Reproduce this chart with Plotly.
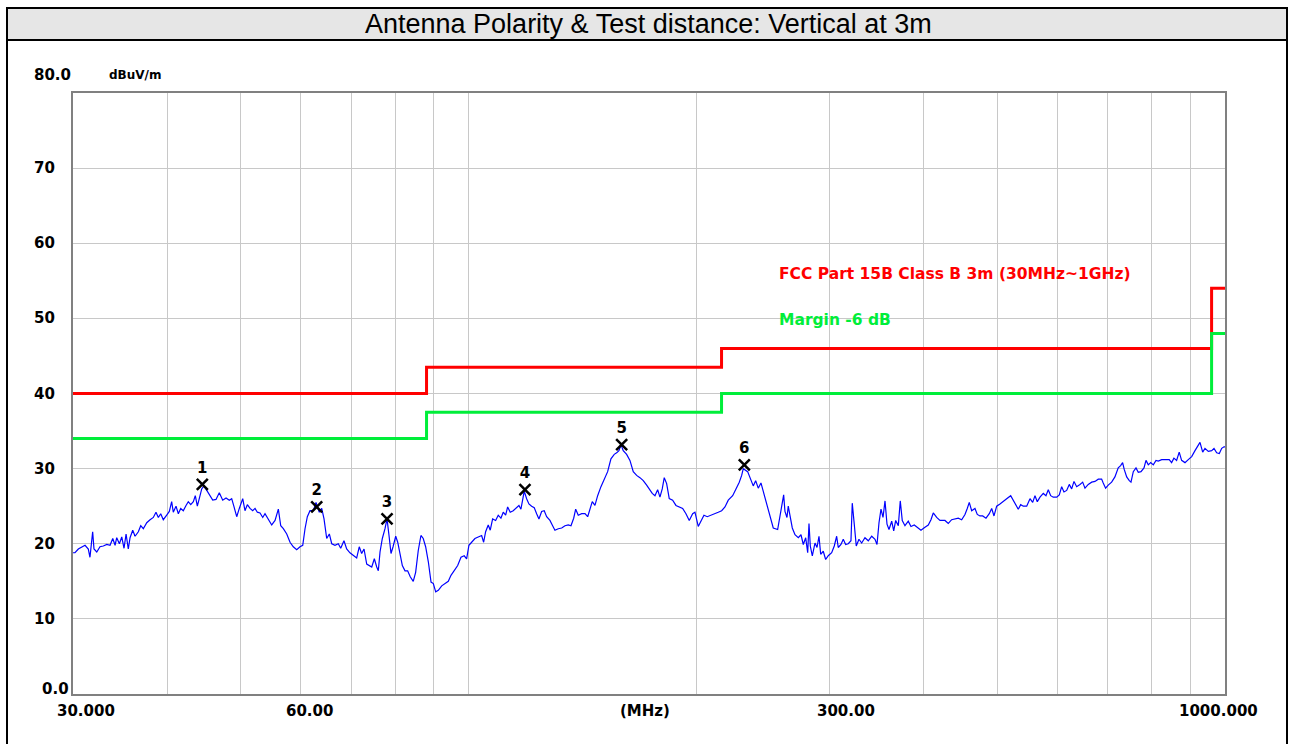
import math
import plotly.graph_objects as go

# ---------------- data ----------------
freq_mhz = [
    30.00, 30.18, 30.49, 30.80, 31.12, 31.43, 31.59, 31.85, 31.98, 32.25, 32.57, 32.90, 33.25, 33.58,
    33.86, 34.10, 34.27, 34.55, 34.80, 35.04, 35.26, 35.50, 35.69, 35.98, 36.24, 36.60, 36.87, 37.16,
    37.55, 37.93, 38.31, 38.62, 38.90, 39.18, 39.49, 39.90, 40.22, 40.51, 40.71, 41.05, 41.34, 41.64,
    41.97, 42.32, 42.61, 42.93, 43.27, 43.53, 43.80, 44.06, 44.39, 44.70, 45.07, 45.43, 45.90, 46.36,
    46.83, 47.32, 47.80, 48.28, 48.63, 48.98, 49.38, 49.77, 50.29, 50.64, 51.00, 51.42, 51.84, 52.21,
    52.58, 53.01, 53.45, 53.82, 54.37, 54.93, 55.49, 56.05, 56.46, 56.91, 57.50, 58.08, 58.66, 59.27,
    59.87, 60.37, 60.79, 61.22, 61.72, 62.35, 62.86, 63.49, 63.96, 64.41, 64.94, 65.46, 65.94, 66.60,
    67.27, 67.77, 68.44, 69.01, 69.70, 70.41, 71.14, 71.70, 72.23, 72.75, 73.35, 74.48, 75.07, 75.62,
    75.99, 76.38, 76.92, 77.55, 78.03, 78.50, 78.98, 79.47, 80.12, 80.61, 81.18, 81.75, 82.42, 83.08,
    83.74, 84.51, 85.13, 85.81, 86.51, 87.12, 87.76, 88.48, 89.21, 89.84, 90.49, 91.21, 92.16, 93.08,
    94.02, 94.80, 95.76, 96.75, 97.73, 98.70, 99.42, 100.12, 100.95, 101.97, 103.00, 104.07, 104.70,
    105.34, 106.18, 106.83, 107.61, 108.60, 109.46, 110.36, 111.14, 111.96, 112.64, 113.53, 114.57,
    115.77, 116.58, 117.29, 117.76, 118.48, 119.34, 120.18, 121.17, 122.14, 123.03, 123.90, 124.92,
    125.91, 126.84, 128.12, 129.02, 130.08, 131.41, 132.78, 134.12, 135.47, 136.59, 137.72, 138.56,
    139.66, 141.11, 142.54, 143.71, 144.72, 145.73, 146.93, 148.14, 149.64, 151.15, 152.72, 154.26,
    155.82, 156.96, 158.06, 159.03, 160.15, 161.81, 163.44, 165.10, 166.81, 168.50, 170.20, 171.97,
    173.70, 174.92, 176.37, 177.82, 179.07, 180.33, 181.43, 182.76, 184.21, 186.13, 188.01, 189.91,
    191.89, 193.83, 195.78, 197.82, 199.21, 201.22, 203.31, 204.74, 206.81, 209.60, 211.71, 213.85,
    216.08, 218.27, 220.47, 223.44, 225.70, 227.98, 229.65, 230.76, 233.87, 236.23, 237.89, 239.64,
    241.54, 243.53, 245.24, 247.80, 250.30, 252.83, 256.24, 258.04, 259.38, 260.96, 262.00, 263.60,
    264.64, 266.02, 267.91, 270.12, 272.85, 275.10, 277.03, 279.06, 280.77, 281.88, 283.00, 284.73,
    287.08, 288.83, 290.59, 292.10, 294.39, 296.55, 298.90, 302.02, 304.42, 306.65, 308.14, 310.69,
    312.87, 315.16, 317.67, 320.29, 321.56, 323.53, 325.50, 328.19, 330.90, 334.23, 337.65, 341.17,
    344.61, 346.71, 348.83, 350.96, 353.10, 355.26, 357.43, 359.61, 362.58, 364.79, 367.02, 369.94,
    372.16, 374.43, 377.52, 381.33, 384.48, 388.36, 392.40, 396.36, 401.22, 405.27, 408.61, 411.48,
    415.77, 419.96, 426.40, 430.70, 435.18, 439.57, 444.02, 448.63, 453.16, 456.35, 459.13, 462.50,
    467.17, 470.45, 474.33, 478.27, 483.10, 487.97, 491.55, 495.00, 499.09, 504.13, 509.22, 514.51,
    520.81, 524.95, 529.28, 533.00, 536.93, 541.20, 546.83, 552.35, 556.91, 560.82, 564.76, 569.42,
    575.17, 579.89, 583.96, 588.25, 592.92, 599.09, 603.85, 608.27, 612.55, 617.60, 622.51, 627.07,
    631.48, 636.69, 643.11, 648.42, 652.98, 659.57, 666.43, 673.15, 679.95, 686.91, 690.27, 695.32,
    700.85, 708.14, 715.30, 722.52, 727.81, 732.26, 735.83, 741.38, 747.26, 751.14, 756.42, 762.66,
    768.02, 774.36, 781.46, 786.24, 791.76, 797.57, 803.90, 810.54, 816.23, 824.72, 835.58, 843.81,
    850.00, 855.98, 863.04, 869.89, 876.27, 885.33, 894.27, 903.56, 912.69, 919.10, 926.69, 934.34,
    940.90, 950.44, 960.33, 967.07, 975.06, 982.80, 990.00, 996.96, 1000.00,
]

level_dbuv = [
    18.8, 18.8, 19.3, 19.5, 19.8, 19.3, 18.2, 21.6, 19.3, 18.9, 19.6, 19.7, 19.9, 19.8,
    20.7, 19.8, 20.8, 20.0, 20.9, 19.4, 21.3, 19.3, 20.8, 21.8, 21.0, 21.6, 22.4, 22.0,
    22.8, 23.2, 23.5, 24.2, 23.5, 24.0, 23.2, 23.8, 24.3, 25.6, 24.2, 25.0, 24.0, 24.7,
    24.4, 25.1, 25.6, 25.2, 25.6, 26.4, 25.0, 26.0, 27.3, 27.7, 27.1, 26.7, 25.8, 25.9,
    26.8, 25.8, 26.1, 25.8, 26.0, 24.9, 23.6, 24.7, 26.0, 24.4, 25.2, 24.7, 24.4, 24.7,
    24.2, 24.1, 23.5, 24.0, 23.3, 22.5, 23.1, 24.6, 22.4, 22.0, 21.3, 20.2, 19.6, 19.2,
    19.6, 19.8, 22.0, 23.6, 24.4, 24.4, 25.5, 24.2, 24.7, 23.3, 20.7, 21.3, 20.0, 19.8,
    20.0, 19.4, 20.4, 19.3, 18.8, 18.5, 18.1, 19.6, 18.7, 19.3, 17.3, 16.9, 18.0, 16.9,
    16.4, 18.9, 20.7, 22.0, 23.3, 21.1, 18.7, 19.6, 21.0, 20.2, 18.4, 17.1, 16.4, 16.4,
    15.6, 15.0, 16.2, 19.1, 21.1, 20.7, 19.6, 17.6, 14.9, 14.7, 13.6, 13.8, 14.4, 14.7,
    15.0, 15.8, 16.4, 17.1, 18.2, 18.4, 18.0, 19.8, 20.2, 20.7, 20.9, 21.1, 20.2,
    21.6, 22.5, 21.8, 23.3, 23.1, 23.8, 23.4, 24.2, 23.8, 24.9, 24.2, 24.4,
    24.9, 25.1, 24.6, 25.6, 27.0, 26.0, 25.3, 25.0, 24.8, 24.0, 23.3, 24.3,
    24.4, 23.6, 23.1, 22.5, 21.8, 22.0, 22.1, 22.4, 22.5, 22.4, 23.4, 24.6,
    23.8, 24.0, 24.0, 23.6, 24.8, 25.6, 25.1, 26.4, 27.6, 28.7, 29.6, 31.3,
    31.9, 32.1, 32.4, 33.2, 32.4, 31.9, 31.1, 29.6, 29.1, 28.8, 28.4, 27.8,
    27.2, 26.7, 26.4, 27.2, 26.2, 27.3, 28.8, 28.0, 26.0, 25.8, 25.1, 24.9,
    24.7, 24.0, 23.1, 24.0, 24.2, 22.3, 23.3, 23.8, 23.6, 23.8, 24.0, 24.2,
    24.4, 24.9, 25.8, 26.4, 27.3, 28.2, 29.1, 30.0, 29.6, 28.5, 27.7, 28.4,
    27.4, 28.1, 27.0, 25.2, 23.5, 22.1, 21.9, 23.5, 24.8, 26.5, 24.3, 23.5,
    25.0, 23.7, 22.1, 21.2, 20.8, 21.2, 19.9, 20.8, 18.8, 22.7, 19.7, 18.4,
    20.1, 19.5, 21.0, 18.6, 19.0, 17.9, 18.4, 18.8, 19.7, 21.0, 19.5, 19.9,
    20.6, 19.9, 20.0, 20.4, 25.4, 22.6, 19.7, 20.6, 20.1, 20.8, 20.4, 21.0,
    20.6, 19.9, 22.8, 24.6, 23.5, 25.7, 22.6, 21.9, 23.0, 21.7, 23.1, 22.4,
    25.7, 23.1, 22.4, 23.0, 22.3, 22.5, 22.1, 21.8, 22.2, 22.5, 23.2, 24.1,
    23.5, 23.1, 23.1, 22.7, 23.2, 23.3, 23.4, 23.2, 23.9, 24.7, 25.5, 24.4,
    24.7, 23.9, 23.7, 23.7, 23.4, 24.0, 24.7, 23.7, 25.0, 25.3, 25.6, 26.0,
    26.4, 25.8, 25.3, 24.6, 25.2, 25.0, 25.0, 26.0, 25.5, 26.4, 25.6, 26.2,
    26.7, 26.4, 27.2, 26.4, 26.2, 26.2, 26.5, 27.6, 26.9, 27.1, 27.9, 27.3,
    28.3, 27.6, 27.9, 28.2, 27.4, 27.9, 28.2, 28.3, 28.6, 28.6, 28.1, 27.4,
    27.8, 28.2, 28.9, 30.1, 30.4, 30.8, 29.9, 28.9, 28.4, 28.2, 29.6, 30.1,
    29.5, 29.6, 30.1, 31.1, 30.5, 30.8, 30.5, 31.1, 31.0, 31.2, 31.2, 31.2,
    30.8, 31.4, 31.1, 32.2, 31.1, 30.8, 31.2, 31.6, 32.4, 32.9, 33.5, 32.2,
    32.7, 32.3, 32.4, 32.7, 32.1, 32.0, 32.7, 32.9, 32.9,
]

limit_freq = [30, 88, 216, 960, 1000]
limit_level = [40.0, 43.5, 46.0, 54.0, 54.0]
margin_db = -6.0
margin_level = [v + margin_db for v in limit_level]

marker_freq = [44.47, 62.99, 78.03, 118.73, 159.37, 231.5]
marker_level = [27.9, 24.9, 23.3, 27.2, 33.2, 30.5]
marker_labels = ["1", "2", "3", "4", "5", "6"]

grid_freq = [40, 50, 60, 70, 80, 90, 100, 200, 300, 400, 500, 600, 700, 800, 900]
y_ticks = [10, 20, 30, 40, 50, 60, 70]
x_tick_freq = [30, 60, 300, 1000]
x_tick_text = ["30.000", "60.00", "300.00", "1000.000"]

title_text = "Antenna Polarity & Test distance: Vertical at 3m"
limit_name = "FCC Part 15B Class B 3m (30MHz~1GHz)"
margin_name = "Margin -6 dB"
unit_text = "dBuV/m"
x_unit_text = "(MHz)"

# ---------------- layout geometry ----------------
W, H = 1294, 744
L, R, T, B = 73, 69, 93, 50
PW = W - L - R
PH = H - T - B


def px(x):
    return (x - L) / PW


def py(y):
    return (H - B - y) / PH


RED = "#ff0000"
GREEN = "#00ee3a"
BLUE = "#0000ff"
GRID = "#c8c8c8"
LBL_FONT = "DejaVu Sans, Verdana, sans-serif"

fig = go.Figure()

fig.add_trace(go.Scatter(
    x=limit_freq, y=limit_level, mode="lines", line=dict(color=RED, width=3, shape="hv"),
    hoverinfo="skip", showlegend=False))
fig.add_trace(go.Scatter(
    x=limit_freq, y=margin_level, mode="lines", line=dict(color=GREEN, width=3, shape="hv"),
    hoverinfo="skip", showlegend=False))
fig.add_trace(go.Scatter(
    x=freq_mhz, y=level_dbuv, mode="lines", line=dict(color=BLUE, width=1.2),
    showlegend=False))
fig.add_trace(go.Scatter(
    x=marker_freq, y=marker_level, mode="markers+text", text=marker_labels,
    textposition="top center",
    textfont=dict(family=LBL_FONT, size=15, color="black", weight="bold"),
    marker=dict(symbol="x-thin", size=11, color="black", line=dict(color="black", width=2.5)),
    showlegend=False))

annotations = []
# y tick labels
for v in y_ticks:
    annotations.append(dict(x=px(32), xref="paper", y=v, yref="y", text=str(v), showarrow=False,
                            xanchor="left", yanchor="middle",
                            font=dict(family=LBL_FONT, size=15, color="black", weight="bold")))
annotations.append(dict(x=px(32), xref="paper", y=80, yref="y", yshift=18, text="80.0",
                        showarrow=False, xanchor="left", yanchor="middle",
                        font=dict(family=LBL_FONT, size=15, color="black", weight="bold")))
annotations.append(dict(x=px(40), xref="paper", y=0, yref="y", yshift=5, text="0.0",
                        showarrow=False, xanchor="left", yanchor="middle",
                        font=dict(family=LBL_FONT, size=15, color="black", weight="bold")))
annotations.append(dict(x=px(107), xref="paper", y=80, yref="y", yshift=18, text=unit_text,
                        showarrow=False, xanchor="left", yanchor="middle",
                        font=dict(family=LBL_FONT, size=12, color="black", weight="bold")))
# x tick labels (annotation x on log axis is log10)
x_shifts = [13, 9, 17, -7]
for f, t, s in zip(x_tick_freq, x_tick_text, x_shifts):
    annotations.append(dict(x=math.log10(f), xref="x", y=0, yref="paper", yshift=-6, xshift=s,
                            text=t, showarrow=False, xanchor="center", yanchor="top",
                            font=dict(family=LBL_FONT, size=15, color="black", weight="bold")))
annotations.append(dict(x=px(645), xref="paper", y=0, yref="paper", yshift=-6, text=x_unit_text,
                        showarrow=False, xanchor="center", yanchor="top",
                        font=dict(family=LBL_FONT, size=15, color="black", weight="bold")))
# legend texts
annotations.append(dict(x=px(777), xref="paper", y=py(274), yref="paper", text=limit_name,
                        showarrow=False, xanchor="left", yanchor="middle",
                        font=dict(family=LBL_FONT, size=15.5, color=RED, weight="bold")))
annotations.append(dict(x=px(777), xref="paper", y=py(320), yref="paper", text=margin_name,
                        showarrow=False, xanchor="left", yanchor="middle",
                        font=dict(family=LBL_FONT, size=15.5, color=GREEN, weight="bold")))
# title
annotations.append(dict(x=px(648), xref="paper", y=py(24), yref="paper", text=title_text,
                        showarrow=False, xanchor="center", yanchor="middle",
                        font=dict(family="Liberation Sans, Arial, sans-serif", size=27, color="black")))

shapes = [
    dict(type="rect", xref="paper", yref="paper", x0=px(7), x1=px(1287), y0=py(40), y1=py(8),
         fillcolor="#e6e6e6", line=dict(color="black", width=2), layer="below"),
    dict(type="line", xref="paper", yref="paper", x0=px(7), x1=px(7), y0=py(40), y1=py(760),
         line=dict(color="black", width=2)),
    dict(type="line", xref="paper", yref="paper", x0=px(1287), x1=px(1287), y0=py(40), y1=py(760),
         line=dict(color="black", width=2)),
]

fig.update_layout(
    width=W, height=H,
    margin=dict(l=L, r=R, t=T, b=B, pad=0),
    paper_bgcolor="white", plot_bgcolor="white",
    showlegend=False,
    annotations=annotations,
    shapes=shapes,
    xaxis=dict(type="log", range=[math.log10(30), math.log10(1000)], tickvals=grid_freq,
               showticklabels=False, ticks="", showgrid=True, gridcolor=GRID, gridwidth=1,
               showline=True, linecolor="#808080", linewidth=2, mirror=True, zeroline=False,
               fixedrange=True),
    yaxis=dict(range=[0, 80], tickvals=[10, 20, 30, 40, 50, 60, 70, 80], showticklabels=False,
               ticks="", showgrid=True, gridcolor=GRID, gridwidth=1,
               showline=True, linecolor="#808080", linewidth=2, mirror=True, zeroline=False,
               fixedrange=True),
)

fig.write_html(
    "out.html",
    config={"displayModeBar": False},
    post_script="document.body.style.margin='0';document.body.style.overflow='hidden';",
)
